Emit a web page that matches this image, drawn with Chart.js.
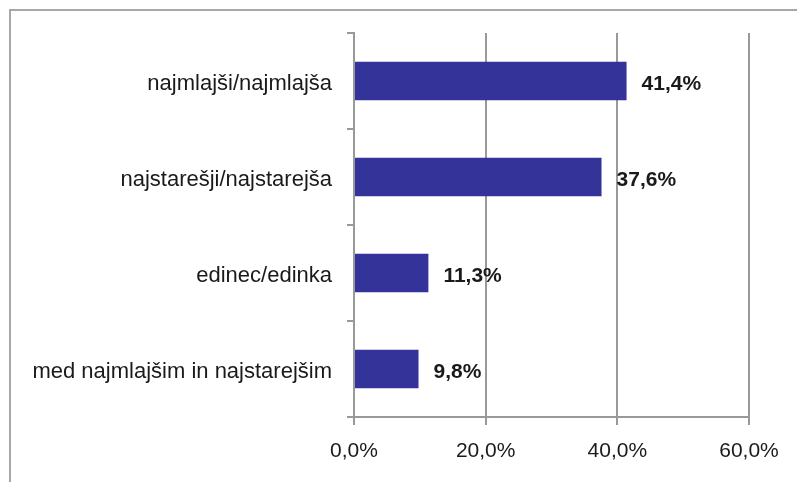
<!DOCTYPE html>
<html>
<head>
<meta charset="utf-8">
<script src="https://cdn.jsdelivr.net/npm/chart.js@4/dist/chart.umd.min.js"></script>
<style>
  html, body { margin: 0; padding: 0; background: #fff; overflow: hidden; }
  #wrap { position: relative; width: 797px; height: 482px; }
  #frame { position: absolute; left: 9px; top: 9px; width: 800px; height: 480px;
           border-top: 2px solid #a8a8a8; border-left: 2px solid #a8a8a8; box-sizing: border-box; }
  canvas { position: absolute; left: 0; top: 0; }
</style>
</head>
<body>
<div id="wrap">
  <div id="frame"></div>
  <canvas id="c" width="797" height="482"></canvas>
</div>
<script>
const categories = [
  "najmlajši/najmlajša",
  "najstarešji/najstarejša",
  "edinec/edinka",
  "med najmlajšim in najstarejšim"
];
const values = [41.4, 37.6, 11.3, 9.8];
const tickValues = [0, 20, 40, 60];

const FONT = "'Liberation Sans', Arial, sans-serif";
const fmt = v => v.toFixed(1).replace('.', ',') + '%';

const labelPlugin = {
  id: 'barLabels',
  afterDatasetsDraw(chart) {
    const ctx = chart.ctx;
    const meta = chart.getDatasetMeta(0);
    ctx.save();
    ctx.font = "bold 21px " + FONT;
    ctx.fillStyle = '#1a1a1a';
    ctx.textAlign = 'left';
    ctx.textBaseline = 'middle';
    meta.data.forEach((bar, i) => {
      ctx.fillText(fmt(values[i]), bar.x + 15, bar.y + 3);
    });
    ctx.restore();
  }
};

const GRID = '#999999';

new Chart(document.getElementById('c'), {
  type: 'bar',
  data: {
    labels: categories,
    datasets: [{
      data: values,
      backgroundColor: '#333399',
      borderWidth: 0,
      barPercentage: 0.4,
      categoryPercentage: 1.0
    }]
  },
  options: {
    indexAxis: 'y',
    responsive: false,
    animation: false,
    devicePixelRatio: 1,
    layout: { padding: { top: 33, right: 48, bottom: 0, left: 0 } },
    plugins: { legend: { display: false }, tooltip: { enabled: false } },
    scales: {
      x: {
        min: 0, max: 60,
        afterBuildTicks(scale) { scale.ticks = tickValues.map(v => ({ value: v })); },
        afterFit(scale) { scale.height = 65; },
        grid: { color: GRID, lineWidth: 2, tickLength: 8, drawOnChartArea: true },
        border: { color: GRID, width: 2 },
        ticks: {
          font: { family: FONT, size: 21 },
          color: '#1a1a1a',
          padding: 14,
          maxRotation: 0,
          callback: v => fmt(v)
        }
      },
      y: {
        afterFit(scale) { scale.width = 354; },
        grid: { color: GRID, lineWidth: 2, tickLength: 7, drawOnChartArea: false, offset: true },
        border: { color: GRID, width: 2 },
        ticks: {
          font: { family: FONT, size: 22 },
          color: '#1a1a1a',
          padding: 15,
          labelOffset: 3
        }
      }
    }
  },
  plugins: [labelPlugin]
});
</script>
</body>
</html>
